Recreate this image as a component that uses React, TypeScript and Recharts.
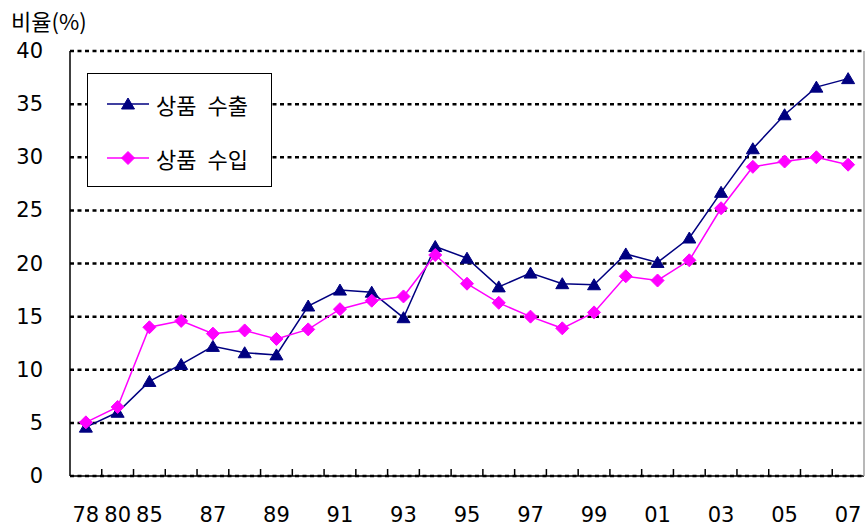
import {
  LineChart,
  Line,
  XAxis,
  YAxis,
  CartesianGrid,
  Legend,
} from "recharts";

const years = [
  "78", "80", "85", "86", "87", "88", "89", "90", "91", "92", "93", "94", "95",
  "96", "97", "98", "99", "00", "01", "02", "03", "04", "05", "06", "07",
];
const shownLabels = [
  "78", "80", "85", "87", "89", "91", "93", "95", "97", "99", "01", "03", "05", "07",
];
const exportShare = [
  4.6, 6.0, 8.9, 10.5, 12.2, 11.6, 11.4, 16.0, 17.5, 17.3, 14.9, 21.6, 20.5,
  17.8, 19.1, 18.1, 18.0, 20.9, 20.1, 22.4, 26.7, 30.8, 34.0, 36.6, 37.4,
];
const importShare = [
  5.05, 6.5, 14.0, 14.6, 13.4, 13.7, 12.9, 13.8, 15.7, 16.5, 16.9, 20.8, 18.1,
  16.3, 15.0, 13.9, 15.4, 18.8, 18.4, 20.3, 25.2, 29.1, 29.6, 30.0, 29.3,
];
const yTicks = [0, 5, 10, 15, 20, 25, 30, 35, 40];

const data = years.map((year, i) => ({
  year,
  exp: exportShare[i],
  imp: importShare[i],
}));

const FONT = "'DejaVu Sans', 'Noto Sans CJK KR', sans-serif";
const NAVY = "#000080";
const MAGENTA = "#FF00FF";
const PLOT_W = 794;
const HALF_BAND = PLOT_W / years.length / 2;

function Triangle({ cx, cy }: any) {
  if (cx == null || cy == null) return null;
  return (
    <polygon
      points={`${cx},${cy - 6} ${cx - 6.5},${cy + 5} ${cx + 6.5},${cy + 5}`}
      fill={NAVY}
      stroke={NAVY}
    />
  );
}

function Diamond({ cx, cy }: any) {
  if (cx == null || cy == null) return null;
  return (
    <polygon
      points={`${cx},${cy - 6.5} ${cx + 6.5},${cy} ${cx},${cy + 6.5} ${cx - 6.5},${cy}`}
      fill={MAGENTA}
      stroke={MAGENTA}
    />
  );
}

function XTick({ x, y, payload, index }: any) {
  const label = payload.value;
  return (
    <g>
      {index < years.length - 1 && (
        <line
          x1={x + HALF_BAND}
          x2={x + HALF_BAND}
          y1={y}
          y2={y - 7}
          stroke="#000"
          strokeWidth={1.5}
        />
      )}
      {shownLabels.includes(label) && (
        <text
          x={x}
          y={y + 39}
          textAnchor="middle"
          dominantBaseline="central"
          fontSize={21}
          fontFamily={FONT}
          fill="#000"
        >
          {label}
        </text>
      )}
    </g>
  );
}

function YTick({ x, y, payload }: any) {
  return (
    <text
      x={x - 27}
      y={y}
      textAnchor="end"
      dominantBaseline="central"
      fontSize={21}
      fontFamily={FONT}
      fill="#000"
    >
      {payload.value}
    </text>
  );
}

function LegendBox({ payload }: any) {
  const items = [...(payload || [])].sort((a: any, b: any) =>
    a.dataKey === "exp" ? -1 : b.dataKey === "exp" ? 1 : 0
  );
  return (
    <div
      style={{
        width: 183,
        height: 112,
        border: "1px solid #000",
        background: "#fff",
        boxSizing: "content-box",
        position: "relative",
        fontFamily: "'Noto Sans CJK KR', sans-serif",
      }}
    >
      {items.map((item: any, i: number) => (
        <div
          key={item.value}
          style={{
            position: "absolute",
            left: 19,
            top: 14 + i * 54,
            height: 32,
            display: "flex",
            alignItems: "center",
            whiteSpace: "nowrap",
          }}
        >
          <svg width={42} height={16}>
            <line x1={0} x2={42} y1={8} y2={8} stroke={item.color} strokeWidth={1.5} />
            {item.dataKey === "exp" ? (
              <Triangle cx={21} cy={8} />
            ) : (
              <Diamond cx={21} cy={8} />
            )}
          </svg>
          <span
            style={{
              marginLeft: 7,
              fontSize: 22,
              color: "#000",
              lineHeight: "32px",
              wordSpacing: 6,
            }}
          >
            {item.value}
          </span>
        </div>
      ))}
    </div>
  );
}

export default function App() {
  return (
    <div style={{ position: "absolute", left: 0, top: 0, width: 866, height: 530, background: "#fff" }}>
      <div
        style={{
          position: "absolute",
          left: 11,
          top: 5,
          fontSize: 22,
          fontFamily: "'Noto Sans CJK KR', sans-serif",
          color: "#000",
          lineHeight: "30px",
          whiteSpace: "nowrap",
        }}
      >
        비율(%)
      </div>
      <LineChart
        width={866}
        height={530}
        data={data}
        margin={{ top: 51, right: 0, left: 0, bottom: 0 }}
      >
        <CartesianGrid
          horizontal
          vertical={false}
          stroke="#000"
          strokeWidth={2.5}
          strokeDasharray="4 3.5"
        />
        <XAxis
          dataKey="year"
          interval={0}
          padding={{ left: HALF_BAND, right: HALF_BAND }}
          height={54}
          tickSize={0}
          tickMargin={0}
          tickLine={false}
          axisLine={{ stroke: "#000", strokeWidth: 1.5 }}
          tick={<XTick />}
        />
        <XAxis
          xAxisId="top"
          orientation="top"
          dataKey="year"
          height={0}
          tick={false}
          tickLine={false}
          axisLine={{ stroke: "#a0a0a0", strokeWidth: 1 }}
        />
        <YAxis
          domain={[0, 40]}
          ticks={yTicks}
          width={70}
          tickSize={0}
          tickMargin={0}
          tickLine={false}
          axisLine={{ stroke: "#000", strokeWidth: 1.5 }}
          tick={<YTick />}
        />
        <YAxis
          yAxisId="right"
          orientation="right"
          domain={[0, 40]}
          width={2}
          tick={false}
          tickLine={false}
          axisLine={{ stroke: "#a0a0a0", strokeWidth: 1.5 }}
        />
        <Legend
          layout="horizontal"
          verticalAlign="middle"
          align="center"
          content={<LegendBox />}
          wrapperStyle={{ position: "absolute", left: 87, top: 73, width: "auto", height: "auto" }}
        />
        <Line
          name="상품 수출"
          dataKey="exp"
          stroke={NAVY}
          strokeWidth={1.5}
          dot={<Triangle />}
          activeDot={false}
          isAnimationActive={false}
        />
        <Line
          name="상품 수입"
          dataKey="imp"
          stroke={MAGENTA}
          strokeWidth={1.5}
          dot={<Diamond />}
          activeDot={false}
          isAnimationActive={false}
        />
      </LineChart>
    </div>
  );
}
